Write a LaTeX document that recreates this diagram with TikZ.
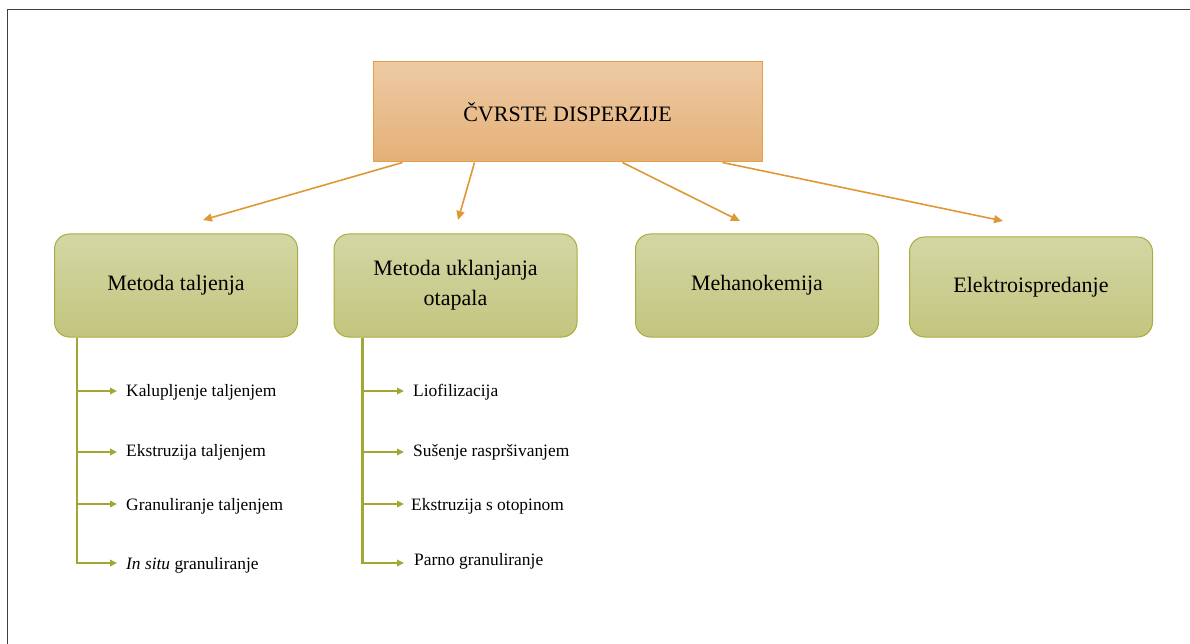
\documentclass[tikz,border=0pt]{standalone}
\usepackage{fontspec}
\setmainfont{Liberation Serif}
\usetikzlibrary{arrows.meta}
\definecolor{topA}{RGB}{237,202,164}
\definecolor{topB}{RGB}{229,176,120}
\definecolor{topEdge}{RGB}{228,160,72}
\definecolor{grA}{RGB}{211,215,164}
\definecolor{grB}{RGB}{195,197,126}
\definecolor{grEdge}{RGB}{170,172,62}
\definecolor{orArrow}{RGB}{224,152,52}
\definecolor{grArrow}{RGB}{162,166,50}
\tikzset{
  rootbox/.style={draw=topEdge, line width=1pt, top color=topA, bottom color=topB,
    minimum width=389pt, minimum height=100pt, inner sep=0pt, align=center,
    font=\fontsize{22}{30}\selectfont},
  methbox/.style={draw=grEdge, line width=1pt, rounded corners=15pt, top color=grA, bottom color=grB,
    minimum width=243pt, minimum height=103pt, inner sep=0pt, align=center,
    font=\fontsize{22}{30}\selectfont},
  leaf/.style={anchor=west, inner sep=0pt, font=\fontsize{17.4}{20}\selectfont,
    text height=12pt, text depth=4pt},
  oarrow/.style={draw=orArrow, line width=1.6pt, -{Triangle[length=9pt,width=8pt]}},
  garrow/.style={draw=grArrow, line width=2.2pt, -{Triangle[length=7pt,width=6.5pt]}},
  frameline/.style={draw=black!75, line width=1pt}
}
\begin{document}
\begin{tikzpicture}[x=1pt,y=-1pt]
\useasboundingbox (0,0) rectangle (1190,644);
\draw[frameline] (1190,10) -- (7,10) -- (7,644);

% root
\node[rootbox] (root) at (567.5,112) {ČVRSTE DISPERZIJE};

% method boxes
\node[methbox] (m1) at (176,285.5) {Metoda taljenja};
\node[methbox] (m2) at (455.5,285.5) {Metoda uklanjanja\\otapala};
\node[methbox] (m3) at (757,285.5) {Mehanokemija};
\node[methbox, minimum height=100pt] (m4) at (1031,287) {Elektroispredanje};

% arrow start/end coordinates
\coordinate (s1) at ([xshift=30pt]root.south west);
\coordinate (s2) at ([xshift=102pt]root.south west);
\coordinate (s3) at ([xshift=250pt]root.south west);
\coordinate (s4) at ([xshift=350pt]root.south west);
\coordinate (e1) at (203,220);
\coordinate (e2) at (458,220);
\coordinate (e3) at (740,221);
\coordinate (e4) at (1003,221);
\draw[oarrow] (s1) -- (e1);
\draw[oarrow] (s2) -- (e2);
\draw[oarrow] (s3) -- (e3);
\draw[oarrow] (s4) -- (e4);

% leaves column 1
\node[leaf] (a1) at (126,392) {Kalupljenje taljenjem};
\node[leaf] (a2) at (126,452) {Ekstruzija taljenjem};
\node[leaf] (a3) at (126,506) {Granuliranje taljenjem};
\node[leaf] (a4) at (126,565) {\textit{In situ} granuliranje};
\coordinate (t1) at ([xshift=23pt]m1.south west);
\draw[garrow, shorten >=9pt] (t1) |- ([yshift=1pt]a1.west);
\draw[garrow, shorten >=9pt] (t1) |- (a2.west);
\draw[garrow, shorten >=9pt] (t1) |- ([yshift=2pt]a3.west);
\draw[garrow, shorten >=9pt] (t1) |- ([yshift=2pt]a4.west);

% leaves column 2
\node[leaf] (b1) at (413,392) {Liofilizacija};
\node[leaf] (b2) at (413,452) {Sušenje raspršivanjem};
\node[leaf] (b3) at (411,506) {Ekstruzija s otopinom};
\node[leaf] (b4) at (414,561) {Parno granuliranje};
\coordinate (t2) at ([xshift=29pt]m2.south west);
\draw[garrow, shorten >=9pt] (t2) |- ([yshift=1pt]b1.west);
\draw[garrow, shorten >=9pt] (t2) |- (b2.west);
\draw[garrow, shorten >=7pt] (t2) |- ([yshift=2pt]b3.west);
\draw[garrow, shorten >=10pt] (t2) |- ([yshift=-2pt]b4.west);
\end{tikzpicture}
\end{document}
